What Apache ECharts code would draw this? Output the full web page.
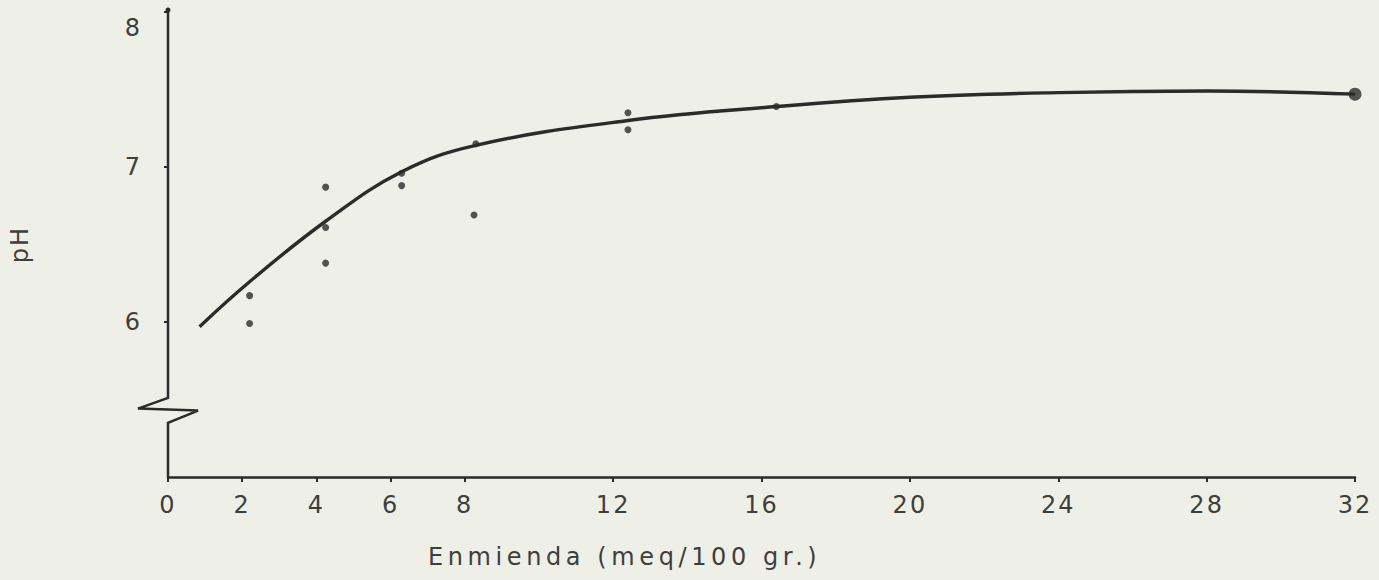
<!DOCTYPE html>
<html>
<head>
<meta charset="utf-8">
<style>
  html, body { margin: 0; padding: 0; background: #eef0e8; }
  #chart { width: 1379px; height: 580px; }
  #chart svg text { letter-spacing: 2px; }
</style>
<script src="https://cdn.jsdelivr.net/npm/echarts@6/dist/echarts.min.js"></script>
</head>
<body>
<div id="chart"></div>
<script>
// Tick positions shown on each axis
const xTickValues = [0, 2, 4, 6, 8, 12, 16, 20, 24, 28, 32];
const yTickValues = [6, 7, 8];

// Fitted pH response curve (amendment in meq/100 g, pH)
const curveX = [0.85, 2.2, 4.25, 6.3, 8.3, 12.4, 16.4, 20, 24, 28, 32];
const curveY = [5.97, 6.26, 6.65, 6.97, 7.14, 7.30, 7.39, 7.45, 7.48, 7.49, 7.47];

// Individual measurements
const obsX = [2.2, 2.2, 4.25, 4.25, 4.25, 6.3, 6.3, 8.25, 8.3, 12.4, 12.4, 16.4];
const obsY = [6.17, 5.99, 6.87, 6.61, 6.38, 6.96, 6.88, 6.69, 7.15, 7.35, 7.24, 7.39];

// Highest dose point, drawn larger
const endX = [32];
const endY = [7.47];

const xName = 'Enmienda (meq/100 gr.)';
const yName = 'pH';

const ink = '#2b2b29';
const textInk = '#3e3e3c';
const font = 'DejaVu Sans';

const pair = (xs, ys) => xs.map((x, i) => [x, ys[i]]);

const chart = echarts.init(document.getElementById('chart'), null, { renderer: 'svg' });

chart.setOption({
  backgroundColor: '#eef0e8',
  animation: false,
  grid: { left: 167, right: 24, top: 12, bottom: 103 },
  xAxis: {
    type: 'value',
    min: 0,
    max: 32,
    interval: 2,
    axisLine: { show: true, lineStyle: { color: ink, width: 2.5 } },
    axisTick: { show: true, customValues: xTickValues, length: 5, lineStyle: { color: ink, width: 2 } },
    axisLabel: {
      customValues: xTickValues,
      fontFamily: font, fontSize: 24, color: textInk, margin: 16
    },
    splitLine: { show: false }
  },
  yAxis: {
    type: 'value',
    min: 5,
    max: 8,
    interval: 1,
    name: yName,
    nameLocation: 'middle',
    nameRotate: 90,
    nameGap: 136,
    nameTextStyle: { fontFamily: font, fontSize: 24, color: textInk },
    axisLine: { show: false },
    axisTick: { show: true, customValues: yTickValues, length: 4, lineStyle: { color: ink, width: 2 } },
    axisLabel: {
      customValues: yTickValues,
      fontFamily: font, fontSize: 24, color: textInk, margin: 26,
      // the top label sits a little below its tick
      formatter: v => (v === 8 ? '{lo|8}' : String(v)),
      rich: { lo: { fontFamily: font, fontSize: 24, color: textInk, padding: [32, 0, 0, 0] } }
    },
    splitLine: { show: false }
  },
  series: [
    {
      name: 'curve',
      type: 'line',
      data: pair(curveX, curveY),
      smooth: 0.4,
      showSymbol: false,
      lineStyle: { color: ink, width: 3.4 },
      z: 2
    },
    {
      name: 'obs',
      type: 'scatter',
      data: pair(obsX, obsY),
      symbolSize: 7,
      itemStyle: { color: ink },
      z: 3
    },
    {
      name: 'end',
      type: 'scatter',
      data: pair(endX, endY),
      symbolSize: 13,
      itemStyle: { color: ink },
      z: 3
    }
  ]
});

// Vertical axis line with a zigzag break below 6
const toPx = v => chart.convertToPixel({ gridIndex: 0 }, [0, v]);
const axisTopPx = toPx(8);
const axisBottomPx = toPx(5);
const ax = axisTopPx[0];
const breakTop = toPx(5.51)[1];
const breakMid = toPx(5.435)[1];
const breakLow = toPx(5.35)[1];

chart.setOption({
  graphic: [
    {
      type: 'polyline',
      shape: {
        points: [
          [ax, axisTopPx[1] - 2],
          [ax, breakTop],
          [ax - 30, breakMid - 1],
          [ax + 30, breakMid + 1],
          [ax, breakLow],
          [ax, axisBottomPx[1]]
        ]
      },
      style: { stroke: ink, lineWidth: 2.5, fill: null, lineJoin: 'miter' },
      z: 10
    },
    {
      type: 'circle',
      shape: { cx: ax, cy: axisTopPx[1] - 2, r: 2.5 },
      style: { fill: ink },
      z: 10
    },
    {
      type: 'text',
      left: 428,
      top: 545,
      style: {
        text: xName,
        fontFamily: font,
        fontSize: 24,
        fill: textInk
      },
      z: 10
    }
  ]
});

// Wider typewriter-like spacing for the horizontal axis title
document.querySelectorAll('#chart svg text').forEach(t => {
  if (t.textContent === xName) t.style.letterSpacing = '4.6px';
});
</script>
</body>
</html>
